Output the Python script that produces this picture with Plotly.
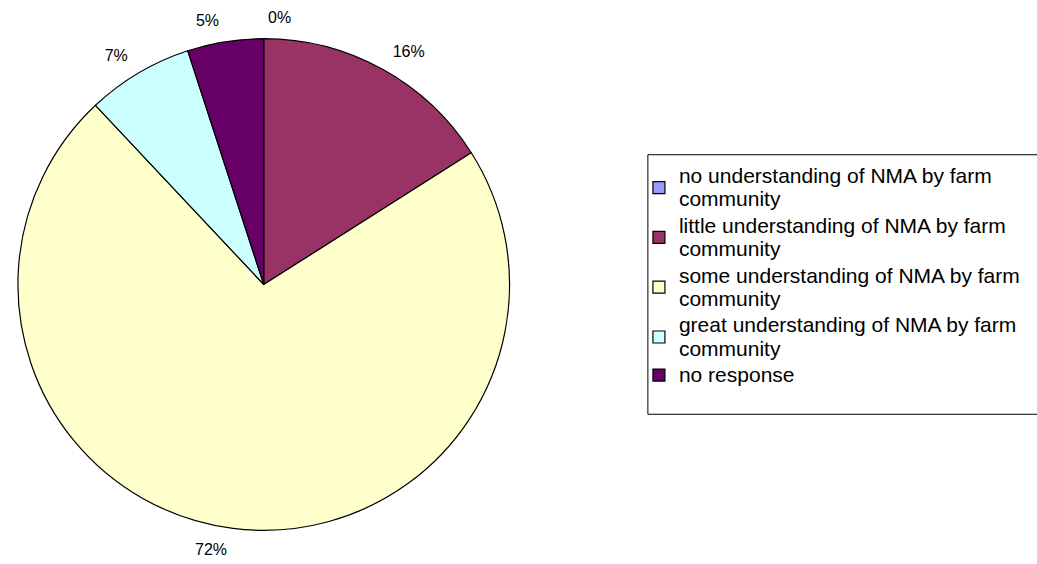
import plotly.graph_objects as go

# Survey responses: understanding of NMA by the farm community (percent)
categories = [
    "no understanding of NMA by farm|community",
    "little understanding of NMA by farm|community",
    "some understanding of NMA by farm|community",
    "great understanding of NMA by farm|community",
    "no response",
]
shares = [0, 16, 72, 7, 5]
colors = ["#9999FF", "#993366", "#FFFFCC", "#CCFFFF", "#660066"]

W, H = 1037, 564
FONT = "Liberation Sans, Arial, sans-serif"

# Pie geometry in pixels
CX, CY, R = 260, 285, 247
LABEL_PUSH = 13  # extra distance of the percentage labels from the rim


def legend_text(label, px=21):
    return "<br>".join(
        f'<span style="font-size:{px}px">{part}</span>' for part in label.split("|")
    )


def domain(radius):
    return dict(
        x=[(CX - radius) / W, (CX + radius) / W],
        y=[1 - (CY + radius) / H, 1 - (CY - radius) / H],
    )


labels = [legend_text(c) for c in categories]

fig = go.Figure()

# Filled pie with black outlines
fig.add_trace(
    go.Pie(
        labels=labels,
        values=shares,
        sort=False,
        direction="clockwise",
        rotation=0,
        marker=dict(colors=colors, line=dict(color="#000000", width=1.2)),
        textinfo="none",
        domain=domain(R),
        showlegend=True,
        hoverinfo="percent",
    )
)

# Transparent concentric ring that carries the percentage labels a little farther out
fig.add_trace(
    go.Pie(
        labels=labels,
        values=shares,
        sort=False,
        direction="clockwise",
        rotation=0,
        marker=dict(colors=["rgba(0,0,0,0)"] * len(shares), line=dict(width=0)),
        texttemplate="%{percent:.0%}",
        textposition="outside",
        textfont=dict(family=FONT, size=16, color="#000000"),
        domain=domain(R + LABEL_PUSH),
        showlegend=False,
        hoverinfo="skip",
    )
)

# Legend frame
fig.add_shape(
    type="rect",
    xref="paper", yref="paper",
    x0=646 / W, x1=1.01, y0=1 - 415 / H, y1=1 - 155 / H,
    line=dict(color="#000000", width=1),
    fillcolor="rgba(0,0,0,0)",
    layer="below",
)

fig.update_layout(
    width=W,
    height=H,
    margin=dict(l=0, r=0, t=0, b=0),
    paper_bgcolor="#FFFFFF",
    plot_bgcolor="#FFFFFF",
    font=dict(family=FONT, color="#000000"),
    legend=dict(
        x=637 / W,
        y=1 - 158 / H,
        xanchor="left",
        yanchor="top",
        font=dict(size=18, color="#000000"),
        borderwidth=0,
        bgcolor="rgba(0,0,0,0)",
        itemwidth=30,
        tracegroupgap=0,
    ),
)

fig.write_html("out.html")
